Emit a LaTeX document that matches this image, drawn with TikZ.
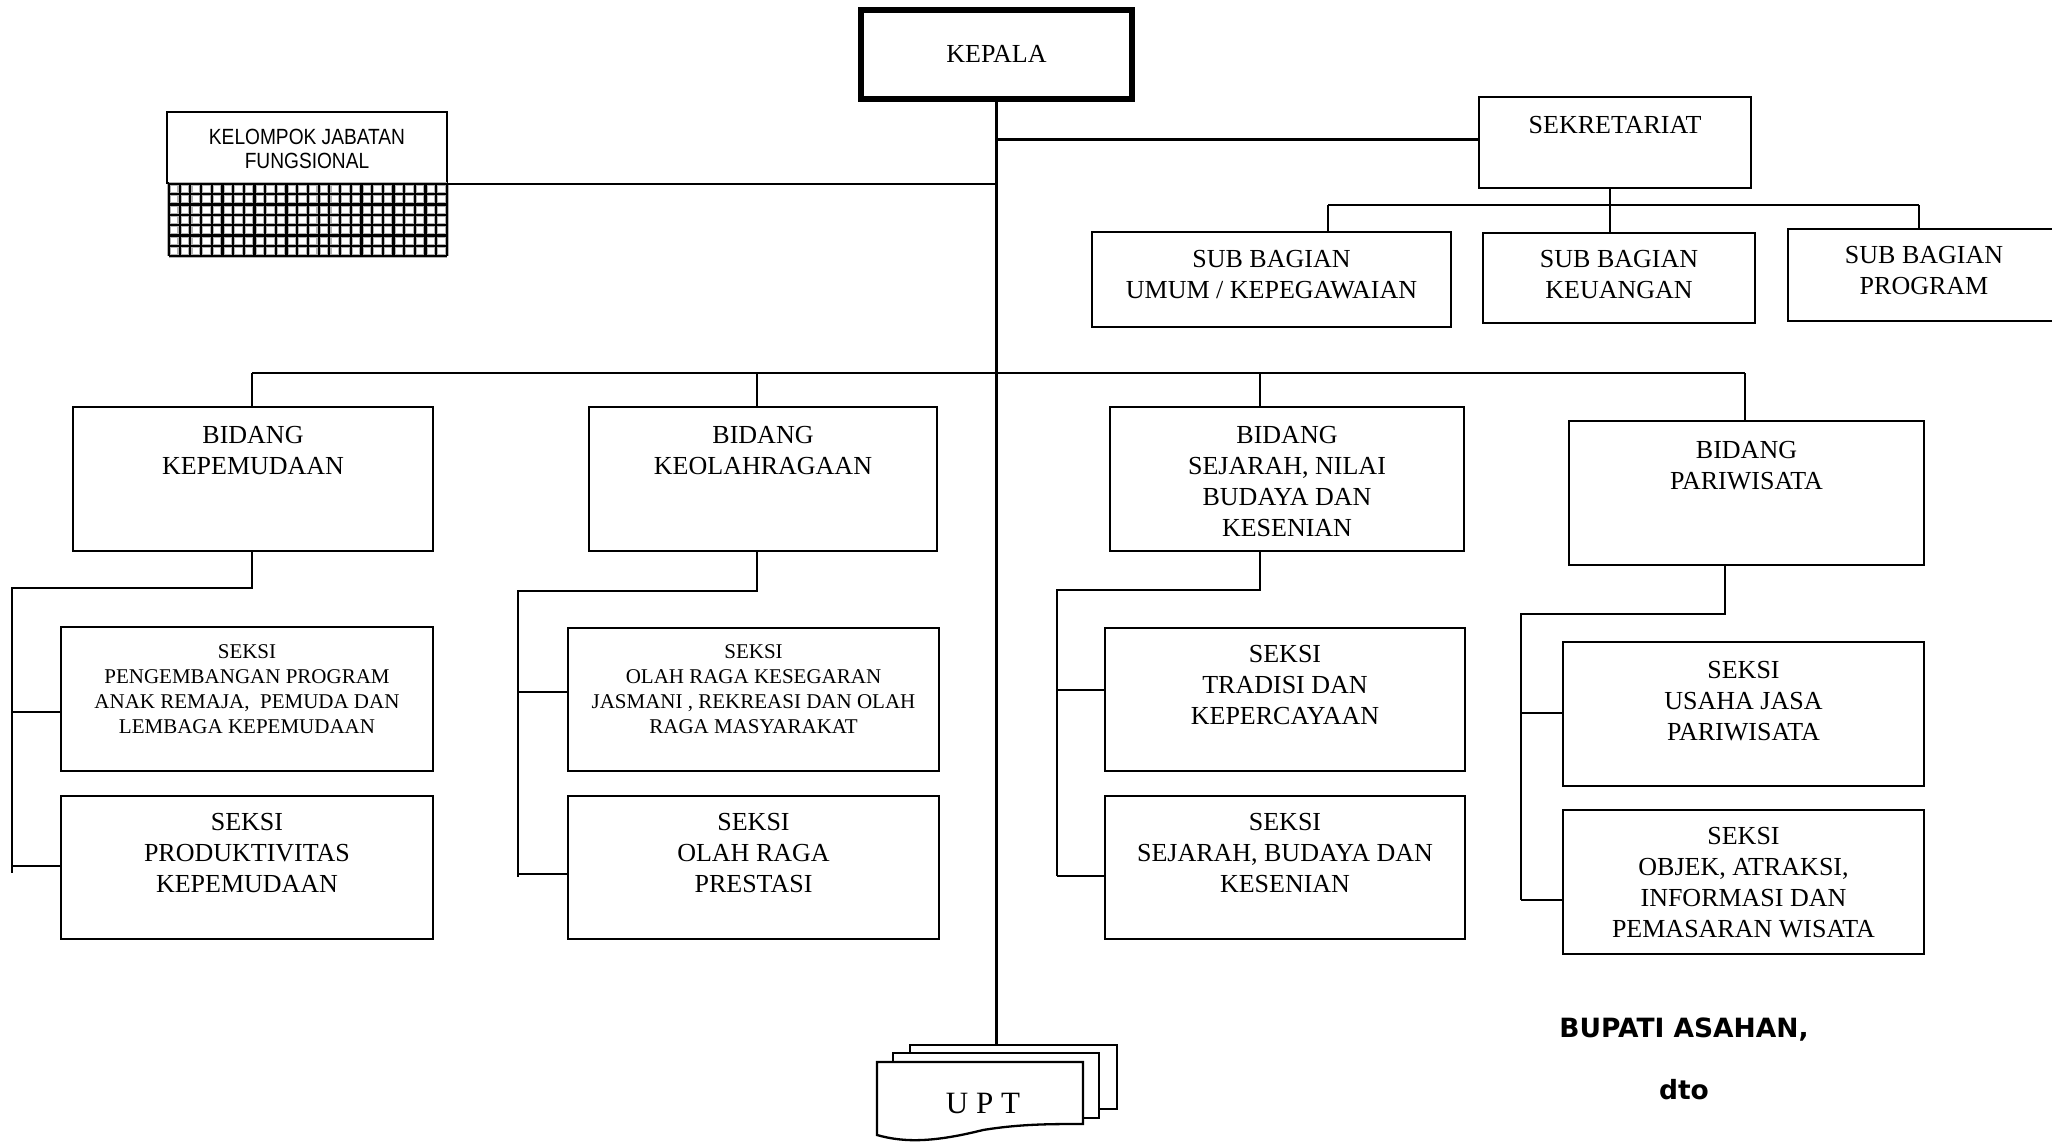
\documentclass[tikz,border=0pt]{standalone}
\usepackage{fontspec}
\setmainfont{Liberation Serif}
\newfontfamily\kjffont[FakeStretch=0.87]{Liberation Sans}
\newfontfamily\signfont{DejaVu Sans}
\usetikzlibrary{fit}

% a framed unit given by two opposite corners
\newcommand\orgbox[4][]{%
  \path (#3) coordinate (#2-nw) (#4) coordinate (#2-se);
  \node[box, fit=(#2-nw)(#2-se), #1] (#2) {};%
}
% text hanging from the top edge of a unit
\newcommand\boxtext[4][17]{%
  \node[txt, #3] (#2-t) at ([yshift=-#1pt]#2.north) {#4};%
}
% bidang -> two seksi: drop, elbow, trunk and two branches
\newcommand\subtree[9]{%
  \coordinate (#1-d) at (#4,#5);
  \coordinate (#1-k) at (#6,#5);
  \coordinate (#1-u) at (#6,#7);
  \coordinate (#1-l) at (#6,#8);
  \coordinate (#1-e) at (#6,#9);
  \draw[link] (#1.south -| #1-d) -- (#1-d) -- (#1-k) -- (#1-e);
  \draw[link] (#1-u) -- (#1-u -| #2.west);
  \draw[link] (#1-l) -- (#1-l -| #3.west);
}

\begin{document}
\begin{tikzpicture}[x=1pt, y=-1pt,
  box/.style={draw, line width=2.3pt, inner sep=0pt, fill=white},
  link/.style={line width=2.3pt},
  txt/.style={anchor=north, inner sep=0pt, align=center},
  big/.style={font=\fontsize{26}{31}\selectfont},
  small/.style={font=\fontsize{21}{25}\selectfont},
  gridhalo/.style={line width=4.4pt, black!30},
  gridline/.style={line width=2.2pt, black}]
\useasboundingbox (0,0) rectangle (2052,1142);
\clip (0,0) rectangle (2052,1142);
\fill[white] (0,0) rectangle (2052,1142);

% ---------- head ----------
\orgbox[line width=6pt]{kepala}{861,10}{1132,99}
\node[big] (kepala-t) at ([yshift=1pt]kepala.center) {KEPALA};

% ---------- functional group with hatched base ----------
\orgbox{kjf}{167,112}{447,183}
\node[align=center, inner sep=0pt, font=\kjffont\fontsize{22}{24}\selectfont]
  (kjf-t) at ([yshift=-1pt]kjf.center) {KELOMPOK JABATAN\\FUNGSIONAL};
\foreach \i in {0,...,26} \draw[gridhalo] ({169+\i*10.69},184) -- ({169+\i*10.69},256);
\foreach \j in {0,...,7} \draw[gridhalo] (169,{184+\j*10.29}) -- (447,{184+\j*10.29});
\foreach \i in {0,...,26} \draw[gridline] ({169+\i*10.69},184) -- ({169+\i*10.69},256);
\foreach \j in {0,...,7} \draw[gridline] (169,{184+\j*10.29}) -- (447,{184+\j*10.29});

% ---------- secretariat ----------
\orgbox{sek}{1479,97}{1751,188}
\boxtext[20]{sek}{big}{SEKRETARIAT}
\orgbox{sb1}{1092,232}{1451,327}
\boxtext[19]{sb1}{big}{SUB BAGIAN\\UMUM / KEPEGAWAIAN}
\orgbox{sb2}{1483,233}{1755,323}
\boxtext[18]{sb2}{big}{SUB BAGIAN\\KEUANGAN}
\orgbox{sb3}{1788,229}{2060,321}
\boxtext[18]{sb3}{big}{SUB BAGIAN\\PROGRAM}

% ---------- bidang ----------
\orgbox{b1}{73,407}{433,551}
\boxtext[20]{b1}{big}{BIDANG\\KEPEMUDAAN}
\orgbox{b2}{589,407}{937,551}
\boxtext[20]{b2}{big}{BIDANG\\KEOLAHRAGAAN}
\orgbox{b3}{1110,407}{1464,551}
\boxtext[20]{b3}{big}{BIDANG\\SEJARAH, NILAI\\BUDAYA DAN\\KESENIAN}
\orgbox{b4}{1569,421}{1924,565}
\boxtext[21]{b4}{big}{BIDANG\\PARIWISATA}

% ---------- seksi ----------
\orgbox{s11}{61,627}{433,771}
\boxtext[19]{s11}{small}{SEKSI\\PENGEMBANGAN PROGRAM\\ANAK REMAJA,\ \ PEMUDA DAN\\LEMBAGA KEPEMUDAAN}
\orgbox{s12}{61,796}{433,939}
\boxtext[18]{s12}{big}{SEKSI\\PRODUKTIVITAS\\KEPEMUDAAN}
\orgbox{s21}{568,628}{939,771}
\boxtext[18]{s21}{small}{SEKSI\\OLAH RAGA KESEGARAN\\JASMANI , REKREASI DAN OLAH\\RAGA MASYARAKAT}
\orgbox{s22}{568,796}{939,939}
\boxtext[18]{s22}{big}{SEKSI\\OLAH RAGA\\PRESTASI}
\orgbox{s31}{1105,628}{1465,771}
\boxtext[18]{s31}{big}{SEKSI\\TRADISI DAN\\KEPERCAYAAN}
\orgbox{s32}{1105,796}{1465,939}
\boxtext[18]{s32}{big}{SEKSI\\SEJARAH, BUDAYA DAN\\KESENIAN}
\orgbox{s41}{1563,642}{1924,786}
\boxtext[20]{s41}{big}{SEKSI\\USAHA JASA\\PARIWISATA}
\orgbox{s42}{1563,810}{1924,954}
\boxtext[18]{s42}{big}{SEKSI\\OBJEK, ATRAKSI,\\INFORMASI DAN\\PEMASARAN WISATA}

% ---------- UPT stack ----------
\orgbox{uptback}{910,1045}{1117,1109}
\orgbox{uptmid}{893,1053}{1099,1118}
\draw[link, fill=white] (877,1062) coordinate (uptfront) -- (1083,1062) -- (1083,1124)
  .. controls (1050,1124) and (1020,1124) .. (983,1130)
  .. controls (935,1142) and (905,1143) .. (877,1135) -- cycle;
\node[anchor=base, inner sep=0pt, font=\fontsize{31}{31}\selectfont] (upt) at (983,1113) {U P T};

% ---------- connectors ----------
\draw[link] (kepala.south) -- (kepala.south |- uptback.north);
\draw[link] (kjf.south east) -- (kjf.south east -| kepala.south);
\draw[link] ([yshift=3pt]sek.west) -- ([yshift=3pt]sek.west -| kepala.south);

\coordinate (sbl) at (1328,205);
\coordinate (sbm) at (1610,205);
\coordinate (sbr) at (1919,205);
\draw[link] (sbl) -- (sbr);
\draw[link] (sek.south -| sbm) -- (sbm) -- (sbm |- sb2.north);
\draw[link] (sbl) -- (sbl |- sb1.north);
\draw[link] (sbr) -- (sbr |- sb3.north);

\coordinate (bx1) at (252,373);
\coordinate (bx2) at (757,373);
\coordinate (bx3) at (1260,373);
\coordinate (bx4) at (1745,373);
\draw[link] (bx1) -- (bx4);
\draw[link] (bx1) -- (bx1 |- b1.north);
\draw[link] (bx2) -- (bx2 |- b2.north);
\draw[link] (bx3) -- (bx3 |- b3.north);
\draw[link] (bx4) -- (bx4 |- b4.north);

\subtree{b1}{s11}{s12}{252}{588}{12}{712}{866}{873}
\subtree{b2}{s21}{s22}{757}{591}{518}{692}{874}{877}
\subtree{b3}{s31}{s32}{1260}{590}{1057}{690}{876}{876}
\subtree{b4}{s41}{s42}{1725}{614}{1521}{713}{900}{900}

% ---------- signature ----------
\node[anchor=base, inner sep=0pt, font=\signfont\bfseries\fontsize{26.5}{26.5}\selectfont]
  (bupati) at (1684,1037) {BUPATI ASAHAN,};
\node[anchor=base, inner sep=0pt, font=\signfont\bfseries\fontsize{26.5}{26.5}\selectfont]
  (dto) at (1684,1099) {dto};
\end{tikzpicture}
\end{document}
